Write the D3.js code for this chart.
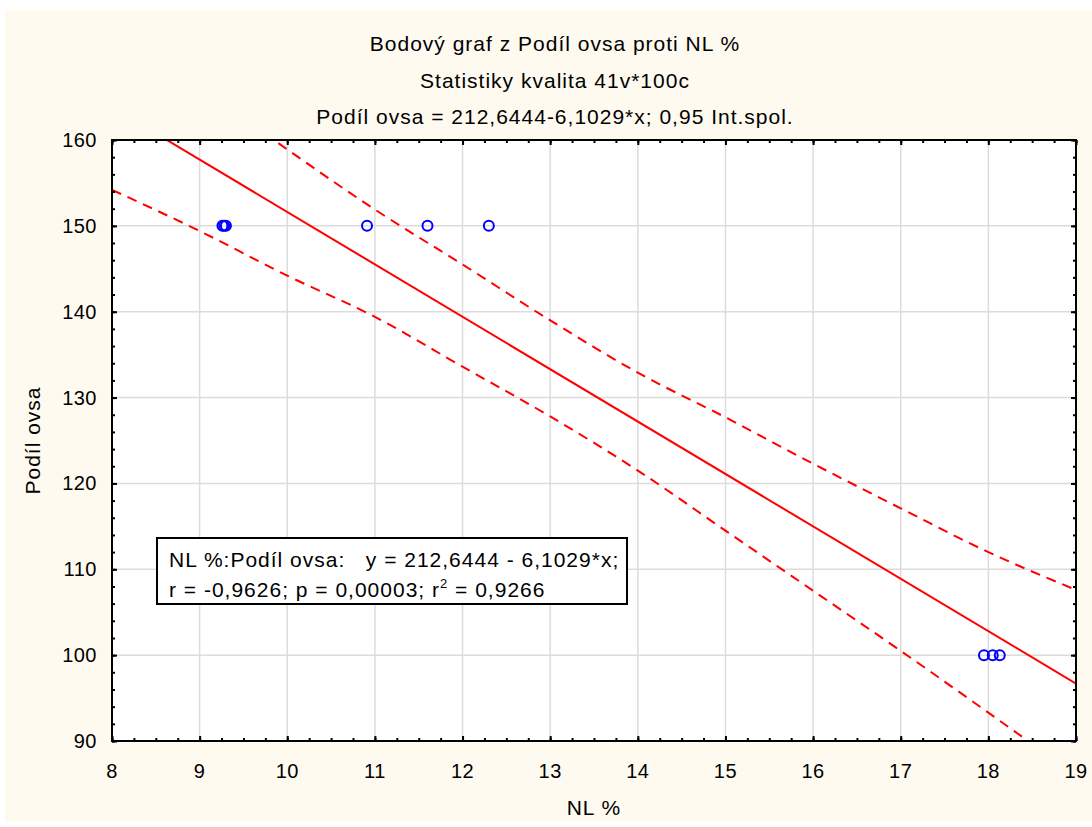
<!DOCTYPE html>
<html>
<head>
<meta charset="UTF-8">
<title>Bodový graf</title>
<style>
  body { margin: 0; background: #fff; font-family: 'Liberation Sans', Arial, sans-serif; }
  svg text { font-family: 'Liberation Sans', Arial, sans-serif; fill: #000; white-space: pre; }
</style>
</head>
<body>
<div id="chart"></div>
<script src="https://d3js.org/d3.v7.min.js"></script>
<script>
// data
var nlX = [9.26, 9.28, 9.30, 10.91, 11.60, 12.30, 17.95, 18.05, 18.13];
var ovsaY = [150, 150, 150, 150, 150, 150, 100, 100, 100];

// fitted line: Podíl ovsa = 212,6444 - 6,1029*x
var fitA = 212.6444, fitB = -6.1029;

// 0.95 confidence band, read at integer x
var bandX = [8, 9, 10, 11, 12, 13, 14, 15, 16, 17, 18, 19];
var bandUpper = [173.4, 166.2, 158.9, 151.9, 145.5, 139.0, 132.9, 127.7, 122.3, 117.1, 112.0, 107.6];
var bandLower = [154.2, 149.4, 144.2, 139.4, 133.6, 127.8, 121.5, 114.5, 107.5, 100.5, 93.3, 86.0];

var xTicks = d3.range(8, 20, 1);
var yTicks = d3.range(90, 170, 10);

var titles = ["Bodový graf z Podíl ovsa proti NL %",
              "Statistiky kvalita 41v*100c",
              "Podíl ovsa = 212,6444-6,1029*x; 0,95 Int.spol."];
var legendLines = ["NL %:Podíl ovsa:   y = 212,6444 - 6,1029*x;"];

var W = 1092, H = 827;
var m = {left: 112, right: 16, top: 140, bottom: 86};

var svg = d3.select("#chart").append("svg")
  .attr("width", W).attr("height", H);

// cream panel
svg.append("rect").attr("x", 5).attr("y", 10).attr("width", W - 5).attr("height", 812)
  .attr("fill", "#fefaf0");

var x = d3.scaleLinear().domain([8, 19]).range([m.left, W - m.right]);
var y = d3.scaleLinear().domain([90, 160]).range([H - m.bottom, m.top]);

var pw = x.range()[1] - x.range()[0], ph = y.range()[0] - y.range()[1];

svg.append("rect").attr("x", m.left).attr("y", m.top).attr("width", pw).attr("height", ph)
  .attr("fill", "#fff");

// grid
svg.append("g").selectAll("line").data(xTicks.slice(1, -1)).enter().append("line")
  .attr("x1", d => x(d)).attr("x2", d => x(d))
  .attr("y1", m.top).attr("y2", m.top + ph)
  .attr("stroke", "#dcdcdc").attr("stroke-width", 1.5);
svg.append("g").selectAll("line").data(yTicks.slice(1, -1)).enter().append("line")
  .attr("y1", d => y(d)).attr("y2", d => y(d))
  .attr("x1", m.left).attr("x2", m.left + pw)
  .attr("stroke", "#dcdcdc").attr("stroke-width", 1.5);

svg.append("clipPath").attr("id", "clip").append("rect")
  .attr("x", m.left).attr("y", m.top).attr("width", pw).attr("height", ph);

var plot = svg.append("g").attr("clip-path", "url(#clip)");

// regression line
plot.append("line")
  .attr("x1", x(8)).attr("y1", y(fitA + fitB * 8))
  .attr("x2", x(19)).attr("y2", y(fitA + fitB * 19))
  .attr("stroke", "#ff0000").attr("stroke-width", 2);

// confidence band
var band = function(vals) {
  return d3.line().curve(d3.curveMonotoneX)
    .x((d, i) => x(bandX[i])).y(d => y(d))(vals);
};
[bandUpper, bandLower].forEach(function(b) {
  plot.append("path").attr("d", band(b))
    .attr("fill", "none").attr("stroke", "#ff0000").attr("stroke-width", 2)
    .attr("stroke-dasharray", "10,7");
});

// points
plot.selectAll("circle").data(nlX).enter().append("circle")
  .attr("cx", d => x(d)).attr("cy", (d, i) => y(ovsaY[i]))
  .attr("r", 5).attr("fill", "none").attr("stroke", "#0000ff").attr("stroke-width", 2);

// axes with inward ticks on all four sides
function axisTicks(axis, scale, step, len) {
  return axis(scale).tickValues(d3.range(scale.domain()[0], scale.domain()[1] + 1e-9, step))
    .tickSize(-len).tickFormat("");
}
var fx = [[d3.axisBottom, m.top + ph], [d3.axisTop, m.top]];
fx.forEach(function(a) {
  var g1 = svg.append("g").attr("transform", "translate(0," + a[1] + ")").call(axisTicks(a[0], x, 0.25, 3));
  var g2 = svg.append("g").attr("transform", "translate(0," + a[1] + ")").call(axisTicks(a[0], x, 1, 5));
  [g1, g2].forEach(g => { g.select(".domain").remove(); g.selectAll("line").attr("stroke", "#000").attr("stroke-width", 2); });
});
var fy = [[d3.axisLeft, m.left], [d3.axisRight, m.left + pw]];
fy.forEach(function(a) {
  var g1 = svg.append("g").attr("transform", "translate(" + a[1] + ",0)").call(axisTicks(a[0], y, 2, 3));
  var g2 = svg.append("g").attr("transform", "translate(" + a[1] + ",0)").call(axisTicks(a[0], y, 10, 5));
  [g1, g2].forEach(g => { g.select(".domain").remove(); g.selectAll("line").attr("stroke", "#000").attr("stroke-width", 2); });
});

svg.append("rect").attr("x", m.left).attr("y", m.top).attr("width", pw).attr("height", ph)
  .attr("fill", "none").attr("stroke", "#000").attr("stroke-width", 2);

// tick labels
svg.append("g").selectAll("text").data(xTicks).enter().append("text")
  .attr("x", d => x(d)).attr("y", m.top + ph + 37)
  .attr("text-anchor", "middle").attr("font-size", 20).attr("letter-spacing", 0.5).text(d => d);
svg.append("g").selectAll("text").data(yTicks).enter().append("text")
  .attr("x", m.left - 15).attr("y", d => y(d) + 7)
  .attr("text-anchor", "end").attr("font-size", 20).attr("letter-spacing", 0.5).text(d => d);

// titles
svg.append("g").selectAll("text").data(titles).enter().append("text")
  .attr("x", 555).attr("y", (d, i) => 51 + i * 36.5)
  .attr("text-anchor", "middle").attr("font-size", 21).attr("letter-spacing", 1)
  .text(d => d);

svg.append("text").attr("x", x(13.5)).attr("y", 815)
  .attr("text-anchor", "middle").attr("font-size", 21).attr("letter-spacing", 1).text("NL %");
svg.append("text").attr("transform", "translate(40," + (m.top + ph / 2) + ") rotate(-90)")
  .attr("text-anchor", "middle").attr("font-size", 21).attr("letter-spacing", 1).text("Podíl ovsa");

// legend box
var lg = svg.append("g").attr("transform", "translate(157,538)");
lg.append("rect").attr("width", 470).attr("height", 66)
  .attr("fill", "#fff").attr("stroke", "#000").attr("stroke-width", 2);
lg.append("text").attr("x", 12).attr("y", 29).attr("font-size", 21).attr("letter-spacing", 1)
  .text(legendLines[0]);
var t2 = lg.append("text").attr("x", 12).attr("y", 59).attr("font-size", 21).attr("letter-spacing", 1);
t2.append("tspan").text("r = -0,9626; p = 0,00003; r");
t2.append("tspan").attr("font-size", 13).attr("dy", -9).text("2");
t2.append("tspan").attr("dy", 9).text(" = 0,9266");
</script>
</body>
</html>
